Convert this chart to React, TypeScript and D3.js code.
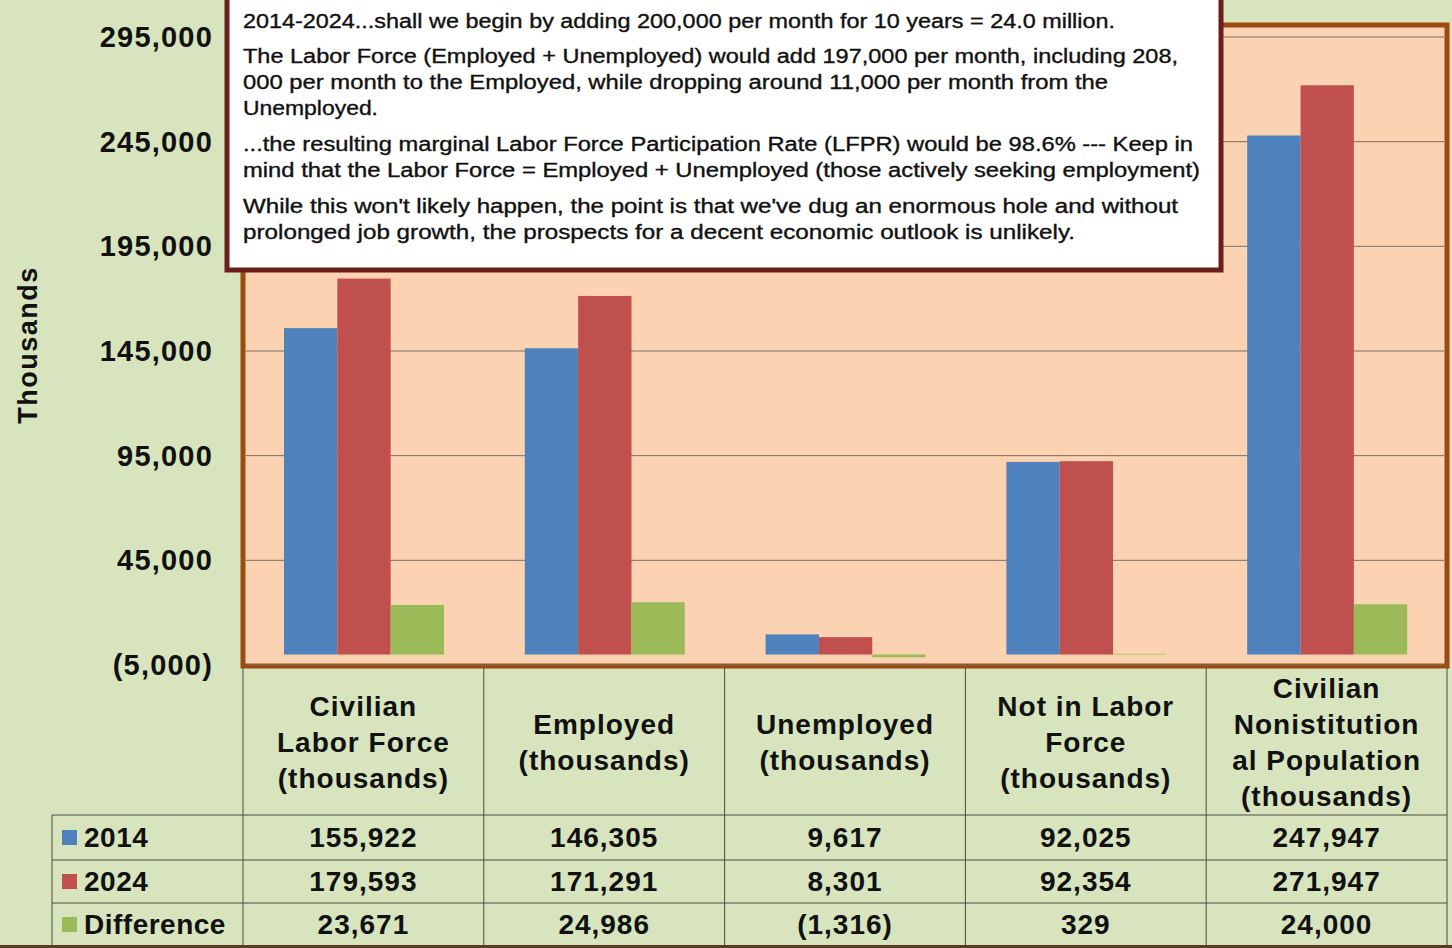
import React, { useEffect, useRef } from "react";
import * as d3 from "d3";

// categories (header cells of the data table)
const categories = [
  ["Civilian", "Labor Force", "(thousands)"],
  ["Employed", "(thousands)"],
  ["Unemployed", "(thousands)"],
  ["Not in Labor", "Force", "(thousands)"],
  ["Civilian", "Nonistitution", "al Population", "(thousands)"],
];
const seriesNames = ["2014", "2024", "Difference"];
const values2014 = [155922, 146305, 9617, 92025, 247947];
const values2024 = [179593, 171291, 8301, 92354, 271947];
const valuesDiff = [23671, 24986, -1316, 329, 24000];
const seriesColors = ["#4f81bd", "#c0504d", "#9bbb59"];
const yTicks = [-5000, 45000, 95000, 145000, 195000, 245000, 295000];

const noteLines = [
  { text: "2014-2024...shall we begin by adding 200,000 per month for 10 years = 24.0 million.", len: 872, gap: 0 },
  { text: "The Labor Force (Employed + Unemployed) would add 197,000 per month, including 208,", len: 935, gap: 35 },
  { text: "000 per month to the Employed, while dropping around 11,000 per month from the", len: 865, gap: 26 },
  { text: "Unemployed.", len: 135, gap: 26 },
  { text: "...the resulting marginal Labor Force Participation Rate (LFPR) would be  98.6% --- Keep in", len: 950, gap: 36 },
  { text: "mind that the Labor Force = Employed + Unemployed (those actively seeking employment)", len: 957, gap: 26 },
  { text: "While this won't likely happen, the point is that we've dug an enormous hole and without", len: 935, gap: 36 },
  { text: "prolonged job growth, the prospects for a decent economic outlook is unlikely.", len: 832, gap: 26 },
];

const W = 1452;
const H = 948;

const fmt = (v: number) => (v < 0 ? `(${d3.format(",")(-v)})` : d3.format(",")(v));

export default function App() {
  const ref = useRef<SVGSVGElement>(null);

  useEffect(() => {
    const svg = d3.select(ref.current);
    svg.selectAll("*").remove();
    const font = "'Liberation Sans', Arial, sans-serif";

    const plotL = 243, plotR = 1447;
    const x = d3.scaleBand<number>().domain(d3.range(categories.length)).range([plotL, plotR]);
    const x1 = d3.scaleBand<number>().domain([0, 1, 2]).range([41, 201]);
    const y = d3.scaleLinear().domain([-5000, 295000]).range([665, 37]);

    // background
    svg.append("rect").attr("width", W).attr("height", H).attr("fill", "#d7e4bd");

    // plot area
    svg.append("rect")
      .attr("x", plotL).attr("y", 25).attr("width", plotR - plotL).attr("height", 641)
      .attr("fill", "#fcd3b2").attr("stroke", "#9c4a10").attr("stroke-width", 5);

    // gridlines
    svg.append("g").selectAll("line").data(yTicks).join("line")
      .attr("x1", plotL + 3).attr("x2", plotR - 3)
      .attr("y1", (d) => y(d)).attr("y2", (d) => y(d))
      .attr("stroke", "#7d6d5d").attr("stroke-width", 1);

    // bars
    const series = [values2014, values2024, valuesDiff];
    const g = svg.append("g");
    series.forEach((vals, si) => {
      g.append("g").selectAll("rect").data(vals).join("rect")
        .attr("x", (_, i) => (x(i) as number) + (x1(si) as number))
        .attr("width", x1.bandwidth())
        .attr("y", (d) => y(Math.max(0, d)))
        .attr("height", (d) => Math.abs(y(d) - y(0)))
        .attr("fill", seriesColors[si]);
    });

    // y axis labels
    svg.append("g").selectAll("text").data(yTicks).join("text")
      .attr("x", 213).attr("y", (d) => y(d)).attr("dy", "0.35em")
      .attr("text-anchor", "end")
      .attr("font-family", font).attr("font-weight", "bold").attr("font-size", 29)
      .attr("letter-spacing", 1.2).attr("fill", "#111")
      .text((d) => fmt(d));

    svg.append("text")
      .attr("transform", "translate(37,345) rotate(-90)")
      .attr("text-anchor", "middle")
      .attr("font-family", font).attr("font-weight", "bold").attr("font-size", 27)
      .attr("letter-spacing", 1.5).attr("fill", "#111")
      .text("Thousands");

    // data table
    const tTop = 668, rowTops = [815, 860, 903], tBot = 946;
    const lineC = "#4a4a40";
    const tg = svg.append("g");
    const cols = d3.range(categories.length + 1).map((i) => (i < categories.length ? (x(i) as number) : plotR));
    cols.forEach((cx) => {
      tg.append("line").attr("x1", cx).attr("x2", cx).attr("y1", tTop).attr("y2", tBot)
        .attr("stroke", lineC).attr("stroke-width", 1);
    });
    tg.append("line").attr("x1", 52).attr("x2", 52).attr("y1", rowTops[0]).attr("y2", tBot)
      .attr("stroke", lineC).attr("stroke-width", 1);
    rowTops.forEach((ry) => {
      tg.append("line").attr("x1", 52).attr("x2", plotR).attr("y1", ry).attr("y2", ry)
        .attr("stroke", lineC).attr("stroke-width", 1);
    });

    // header cells
    categories.forEach((lines, i) => {
      const cx = (x(i) as number) + x.bandwidth() / 2;
      const cy = 742;
      const t = tg.append("text")
        .attr("text-anchor", "middle")
        .attr("font-family", font).attr("font-weight", "bold").attr("font-size", 28)
        .attr("letter-spacing", 1).attr("fill", "#111");
      lines.forEach((ln, j) => {
        t.append("tspan").attr("x", cx)
          .attr("y", cy + (j - (lines.length - 1) / 2) * 36)
          .attr("dy", "0.35em").text(ln);
      });
    });

    // rows
    const rowMid = [837, 881, 924];
    series.forEach((vals, si) => {
      tg.append("rect").attr("x", 62).attr("y", rowMid[si] - 7).attr("width", 15).attr("height", 15)
        .attr("fill", seriesColors[si]);
      tg.append("text").attr("x", 84).attr("y", rowMid[si]).attr("dy", "0.35em")
        .attr("font-family", font).attr("font-weight", "bold").attr("font-size", 28)
        .attr("letter-spacing", 0.5).attr("fill", "#111")
        .text(seriesNames[si]);
      tg.append("g").selectAll("text").data(vals).join("text")
        .attr("x", (_, i) => (x(i) as number) + x.bandwidth() / 2)
        .attr("y", rowMid[si]).attr("dy", "0.35em")
        .attr("text-anchor", "middle")
        .attr("font-family", font).attr("font-weight", "bold").attr("font-size", 28)
        .attr("letter-spacing", 1).attr("fill", "#111")
        .text((d) => fmt(d));
    });

    // bottom frame line
    svg.append("line").attr("x1", 0).attr("x2", W).attr("y1", 946.5).attr("y2", 946.5)
      .attr("stroke", "#5a3a22").attr("stroke-width", 3);

    // annotation box
    svg.append("rect").attr("x", 227).attr("y", -3).attr("width", 994).attr("height", 273)
      .attr("fill", "#ffffff").attr("stroke", "#6b1f1c").attr("stroke-width", 5);
    let ty = 28;
    noteLines.forEach((ln) => {
      ty += ln.gap;
      svg.append("text").attr("x", 243).attr("y", ty)
        .attr("font-family", font).attr("font-size", 19.5)
        .attr("fill", "#111").attr("stroke", "#111").attr("stroke-width", 0.35)
        .attr("textLength", ln.len).attr("lengthAdjust", "spacingAndGlyphs")
        .text(ln.text);
    });
  }, []);

  return (
    <svg
      ref={ref}
      width={W}
      height={H}
      style={{ position: "absolute", left: 0, top: 0, display: "block" }}
    />
  );
}
